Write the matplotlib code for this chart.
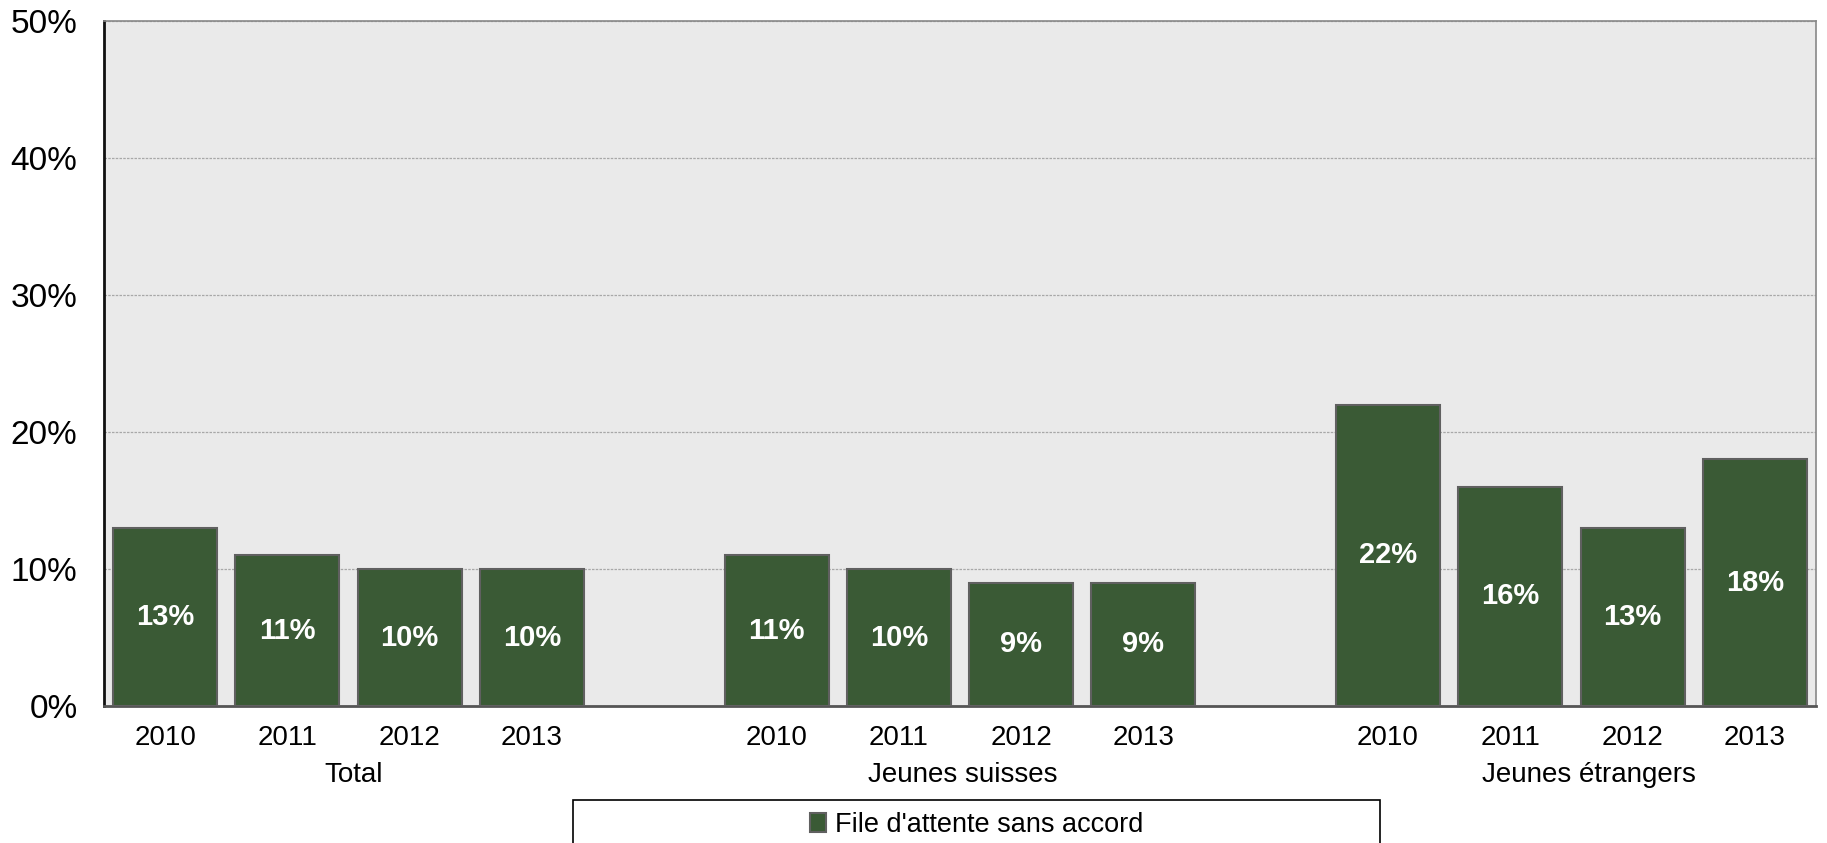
import matplotlib
matplotlib.use("Agg")
import matplotlib.pyplot as plt
from matplotlib.patches import Rectangle
from matplotlib.ticker import FuncFormatter, MultipleLocator

plt.rcParams["font.family"] = ["Liberation Sans", "DejaVu Sans"]

groups = ["Total", "Jeunes suisses", "Jeunes étrangers"]
years = ["2010", "2011", "2012", "2013"]
total_vals = [13, 11, 10, 10]
suisses_vals = [11, 10, 9, 9]
etrangers_vals = [22, 16, 13, 18]
series_name = "File d'attente sans accord"

bar_color = "#3a5a35"
edge_color = "#606060"
bg = "#eaeaea"

fig = plt.figure(figsize=(18.27, 8.43), dpi=100)
ax = fig.add_axes([0.0569, 0.1625, 0.9371, 0.8125])
ax.set_facecolor(bg)

# 4 bars per group, one empty slot between groups
positions = []
values = []
tick_labels = []
for g, vals in enumerate([total_vals, suisses_vals, etrangers_vals]):
    for i, v in enumerate(vals):
        positions.append(g * 5 + i)
        values.append(v)
        tick_labels.append(years[i])

bars = ax.bar(positions, values, width=0.85, color=bar_color, edgecolor=edge_color,
              linewidth=1.5, label=series_name, zorder=3)

for x, v in zip(positions, values):
    ax.text(x, v / 2, f"{v}%", ha="center", va="center", color="white",
            fontsize=21, fontweight="bold", zorder=4)

ax.set_xlim(-0.5, 13.5)
ax.set_ylim(0, 50)
ax.yaxis.set_major_locator(MultipleLocator(10))
ax.yaxis.set_major_formatter(FuncFormatter(lambda v, _: f"{v:.0f}%"))
ax.set_xticks(positions)
ax.set_xticklabels(tick_labels)
ax.tick_params(axis="y", length=0, pad=19, labelsize=24)
ax.tick_params(axis="x", length=0, pad=14, labelsize=20)

ax.grid(axis="y", color="#a8a8a8", linestyle=(0, (2, 1)), linewidth=0.9, zorder=1)
ax.set_axisbelow(True)

# group labels under the year ticks (centres nudged to match the original)
group_label_x = [1.54, 6.52, 11.64]
for gx, name in zip(group_label_x, groups):
    ax.annotate(name, xy=(gx, 0), xycoords=("data", "axes fraction"),
                xytext=(0, -50), textcoords="offset points",
                ha="center", va="center", fontsize=20)

ax.spines["left"].set_color("#111111")
ax.spines["left"].set_linewidth(2)
ax.spines["bottom"].set_color("#555555")
ax.spines["bottom"].set_linewidth(2)
ax.spines["top"].set_color("#888888")
ax.spines["top"].set_linewidth(1.2)
ax.spines["right"].set_color("#888888")
ax.spines["right"].set_linewidth(1.2)

# legend frame (runs off the bottom edge, as in the original)
fig.patches.append(Rectangle((0.3136, -0.05), 0.4417, 0.101, transform=fig.transFigure,
                             fill=False, edgecolor="black", linewidth=1.2))
fig.legend(handles=[bars], labels=[series_name], loc="center",
           bbox_to_anchor=(0.5345, 0.0214), fontsize=19.5, frameon=False,
           handlelength=0.6, handleheight=0.7, handletextpad=0.3,
           borderpad=0, borderaxespad=0)

fig.savefig("out.png", dpi=100)
